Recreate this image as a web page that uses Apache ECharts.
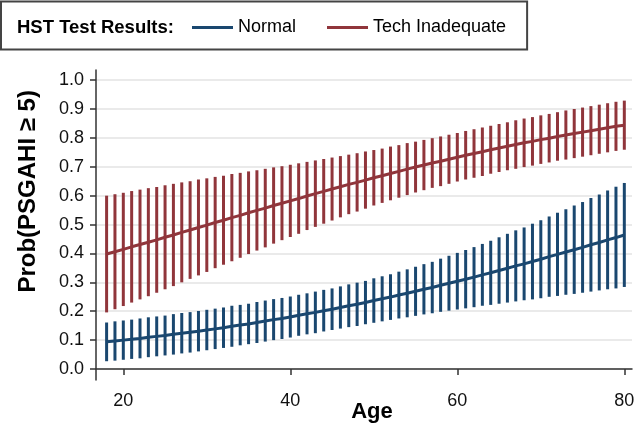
<!DOCTYPE html>
<html>
<head>
<meta charset="utf-8">
<script src="https://cdn.jsdelivr.net/npm/echarts@6/dist/echarts.min.js"></script>
<style>
html,body{margin:0;padding:0;background:#fff;}
#chart{width:635px;height:432px;}
</style>
</head>
<body>
<div id="chart"></div>
<script>
var ages = [18,19,20,21,22,23,24,25,26,27,28,29,30,31,32,33,34,35,36,37,38,39,40,41,42,43,44,45,46,47,48,49,50,51,52,53,54,55,56,57,58,59,60,61,62,63,64,65,66,67,68,69,70,71,72,73,74,75,76,77,78,79,80];

var normalMean = [.094,.097,.100,.103,.106,.110,.113,.116,.120,.124,.127,.131,.135,.139,.143,.148,.152,.156,.161,.166,.171,.175,.180,.186,.191,.196,.202,.207,.213,.219,.224,.230,.237,.243,.249,.256,.262,.269,.276,.282,.290,.297,.304,.311,.318,.326,.333,.341,.349,.357,.364,.372,.380,.389,.397,.405,.413,.421,.430,.438,.447,.455,.464];
var normalLow = [.027,.029,.032,.035,.037,.041,.044,.047,.050,.054,.057,.061,.065,.069,.073,.077,.082,.086,.090,.095,.100,.104,.109,.115,.120,.124,.130,.135,.140,.145,.149,.155,.160,.165,.170,.175,.179,.184,.189,.193,.198,.202,.206,.210,.214,.219,.222,.226,.230,.234,.238,.241,.245,.250,.253,.257,.260,.264,.268,.272,.276,.279,.284];
var normalHigh = [.161,.165,.168,.171,.175,.179,.182,.185,.190,.194,.197,.201,.205,.209,.213,.219,.222,.226,.232,.237,.242,.246,.251,.257,.262,.268,.274,.279,.286,.293,.299,.305,.314,.321,.328,.337,.345,.354,.363,.371,.382,.392,.402,.412,.422,.433,.444,.456,.468,.480,.490,.503,.515,.528,.541,.553,.566,.578,.592,.604,.618,.631,.644];

var techMean = [.398,.406,.414,.423,.431,.439,.447,.456,.464,.473,.481,.490,.498,.507,.515,.524,.532,.541,.549,.557,.566,.574,.582,.590,.599,.607,.615,.623,.631,.639,.646,.654,.662,.669,.677,.684,.692,.699,.706,.713,.719,.726,.733,.740,.746,.752,.759,.765,.771,.777,.783,.788,.794,.799,.805,.810,.815,.820,.825,.830,.835,.840,.844];
var techLow = [.196,.207,.218,.230,.241,.252,.264,.276,.287,.300,.312,.324,.336,.349,.361,.373,.385,.398,.410,.421,.434,.446,.457,.468,.481,.492,.503,.514,.525,.536,.545,.555,.566,.575,.584,.593,.602,.611,.619,.627,.633,.641,.649,.656,.662,.668,.676,.682,.688,.693,.699,.704,.710,.715,.721,.725,.730,.735,.740,.745,.750,.755,.759];
var techHigh = [.600,.605,.610,.616,.621,.626,.630,.636,.641,.646,.650,.656,.660,.665,.669,.675,.679,.684,.688,.693,.698,.702,.707,.712,.717,.722,.727,.732,.737,.742,.747,.753,.758,.763,.770,.775,.782,.787,.793,.799,.805,.811,.817,.824,.830,.836,.842,.848,.854,.861,.867,.872,.878,.883,.889,.895,.900,.905,.910,.915,.920,.925,.929];

var yTicks = [0,0.1,0.2,0.3,0.4,0.5,0.6,0.7,0.8,0.9,1.0];
var xTicks = [20,40,60,80];

var BLUE = '#1a476f', RED = '#90353b';
var FONT = '"Liberation Sans", Arial, Helvetica, sans-serif';

function pairs(xs, ys){ return xs.map(function(x,i){return [x, ys[i]];}); }
function triples(xs, lo, hi){ return xs.map(function(x,i){return [x, lo[i], hi[i]];}); }
function barRenderer(color){
  return function(params, api){
    var p1 = api.coord([api.value(0), api.value(1)]);
    var p2 = api.coord([api.value(0), api.value(2)]);
    return {type:'line', shape:{x1:p1[0], y1:p1[1], x2:p2[0], y2:p2[1]},
            style:{stroke:color, lineWidth:3, lineCap:'butt'}};
  };
}

var chart = echarts.init(document.getElementById('chart'), null, {renderer:'canvas'});
chart.setOption({
  animation:false,
  backgroundColor:'#fff',
  textStyle:{fontFamily:FONT},
  title:{text:'HST Test Results:', left:17, top:18, padding:0,
         textStyle:{fontFamily:FONT, fontSize:18.5, fontWeight:'bold', color:'#000'}},
  legend:{
    data:['Normal','Tech Inadequate'],
    left:1, top:1.5, orient:'horizontal',
    padding:[17,21,13,191],
    borderColor:'#444', borderWidth:2,
    icon:'rect', itemWidth:41, itemHeight:3, itemGap:31,
    textStyle:{fontFamily:FONT, fontSize:18, color:'#000'}
  },
  graphic:[{
    type:'text', x:28.7, y:191.3, rotation:Math.PI/2,
    style:{text:'Prob(PSGAHI \u2265 5)', x:0, y:0, textAlign:'center', textVerticalAlign:'middle',
           font:'bold 24px ' + FONT, fill:'#000'}
  }],
  grid:{left:96, right:3, top:70, bottom:52, containLabel:false, outerBoundsMode:'none'},
  xAxis:{
    type:'value', min:16.73, max:80.92,
    name:'Age', nameLocation:'middle', nameGap:21, nameMoveOverlap:false,
    nameTextStyle:{fontFamily:FONT, fontSize:22, fontWeight:'bold', color:'#000', padding:[0,0,0,16]},
    axisLine:{lineStyle:{color:'#333', width:1.5}},
    axisTick:{customValues:xTicks, length:6, lineStyle:{color:'#333', width:1.5}},
    axisLabel:{customValues:xTicks, margin:12, fontFamily:FONT, fontSize:18, color:'#111'},
    splitLine:{show:false}
  },
  yAxis:{
    type:'value', min:-0.038, max:1.035,
    axisLine:{show:true, lineStyle:{color:'#333', width:1.5}},
    axisTick:{show:true, customValues:yTicks, length:6, lineStyle:{color:'#333', width:1.5}},
    axisLabel:{customValues:yTicks, margin:12, fontFamily:FONT, fontSize:18, color:'#111',
               formatter:function(v){return v.toFixed(1);}},
    splitLine:{show:true, lineStyle:{color:'#e3e3e3', width:1.5}}
  },
  series:[
    {name:'Normal CI', type:'custom', renderItem:barRenderer(BLUE), encode:{x:0, y:[1,2]},
     data:triples(ages, normalLow, normalHigh), z:2},
    {name:'Tech CI', type:'custom', renderItem:barRenderer(RED), encode:{x:0, y:[1,2]},
     data:triples(ages, techLow, techHigh), z:2},
    {name:'Normal', type:'line', data:pairs(ages, normalMean), symbol:'none', showSymbol:false,
     color:BLUE, lineStyle:{color:BLUE, width:3}, z:3},
    {name:'Tech Inadequate', type:'line', data:pairs(ages, techMean), symbol:'none', showSymbol:false,
     color:RED, lineStyle:{color:RED, width:3}, z:3}
  ]
});
</script>
</body>
</html>
